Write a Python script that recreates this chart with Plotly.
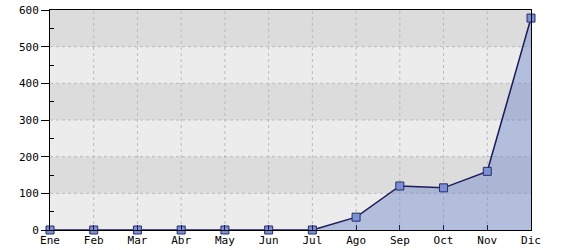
import plotly.graph_objects as go

months = ["Ene", "Feb", "Mar", "Abr", "May", "Jun", "Jul", "Ago", "Sep", "Oct", "Nov", "Dic"]
values = [0, 0, 0, 0, 0, 0, 0, 35, 120, 115, 160, 578]
y_ticks = [0, 100, 200, 300, 400, 500, 600]
dark_bands = [(100, 200), (300, 400), (500, 600)]

minor_vals = [(a + b) / 2 for a, b in zip(y_ticks[:-1], y_ticks[1:])]

fig = go.Figure()
fig.add_trace(go.Scatter(
    x=months, y=values, mode="lines+markers", fill="tozeroy",
    fillcolor="rgba(110,135,205,0.45)",
    line=dict(color="#1c1c5c", width=1.5),
    marker=dict(symbol="square", size=8, color="#7b92d2",
                line=dict(color="#2a2a6a", width=1)),
    cliponaxis=False, hoverinfo="skip",
))

shapes = [dict(type="rect", xref="x domain", yref="y", x0=0, x1=1, y0=a, y1=b,
               fillcolor="#dcdcdc", line=dict(width=0), layer="below")
          for a, b in dark_bands]
grid = dict(color="#bbbbbb", width=1, dash="3px,3px")
shapes += [dict(type="line", xref="x domain", yref="y", x0=0, x1=1, y0=v, y1=v,
                line=grid, layer="below") for v in y_ticks[1:-1]]
shapes += [dict(type="line", xref="x", yref="y domain", x0=m, x1=m, y0=0, y1=1,
                line=grid, layer="below") for m in months[1:-1]]

font = dict(family="DejaVu Sans Mono", size=11, color="black")
fig.update_layout(
    width=580, height=250, margin=dict(l=50, r=49, t=10, b=20),
    paper_bgcolor="white", plot_bgcolor="#ececec",
    showlegend=False, shapes=shapes, font=font,
    xaxis=dict(type="category", range=[0, 11], showline=True, linecolor="black",
               linewidth=1, mirror=True, ticks="inside", ticklen=5,
               tickcolor="#1c1c5c", showgrid=False, zeroline=False, tickfont=font,
               automargin=False),
    yaxis=dict(range=[0, 600], tickmode="array", tickvals=y_ticks, showline=True,
               linecolor="black", linewidth=1, mirror=True, ticks="outside",
               ticklen=8, tickcolor="black", showgrid=False, zeroline=False,
               tickfont=font, automargin=False,
               minor=dict(tickmode="array", tickvals=minor_vals, ticks="inside",
                          ticklen=4, tickcolor="black", showgrid=False)),
)
fig.write_html("out.html")
